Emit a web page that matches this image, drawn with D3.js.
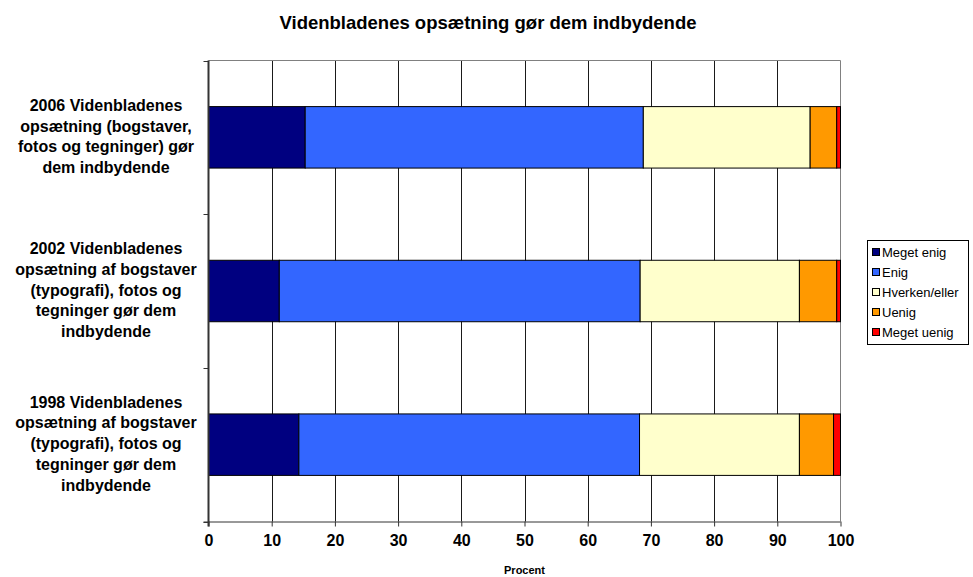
<!DOCTYPE html>
<html>
<head>
<meta charset="utf-8">
<script src="https://cdn.jsdelivr.net/npm/d3@7"></script>
<style>
  html, body { margin: 0; padding: 0; background: #fff; }
  svg { display: block; font-family: "Liberation Sans", Arial, sans-serif; }
</style>
</head>
<body>
<svg id="chart" width="973" height="577"></svg>
<script>
// ---- data ----
const categories = [
  "2006 Videnbladenes opsætning (bogstaver, fotos og tegninger) gør dem indbydende",
  "2002 Videnbladenes opsætning af bogstaver (typografi), fotos og tegninger gør dem indbydende",
  "1998 Videnbladenes opsætning af bogstaver (typografi), fotos og tegninger gør dem indbydende"
];
const categoryLines = [
  ["2006 Videnbladenes", "opsætning (bogstaver,", "fotos og tegninger) gør", "dem indbydende"],
  ["2002 Videnbladenes", "opsætning af bogstaver", "(typografi), fotos og", "tegninger gør dem", "indbydende"],
  ["1998 Videnbladenes", "opsætning af bogstaver", "(typografi), fotos og", "tegninger gør dem", "indbydende"]
];
const seriesNames = ["Meget enig", "Enig", "Hverken/eller", "Uenig", "Meget uenig"];
const megetEnig  = [15.3, 11.2, 14.3];
const enig       = [53.5, 57.1, 53.9];
const hverken    = [26.4, 25.2, 25.3];
const uenig      = [4.2, 5.9, 5.4];
const megetUenig = [0.6, 0.6, 1.1];
const xTicks = [0, 10, 20, 30, 40, 50, 60, 70, 80, 90, 100];
const colors = ["#000080", "#3366FF", "#FFFFCC", "#FF9900", "#FF0000"];
const titleText = "Videnbladenes opsætning gør dem indbydende";
const xAxisTitle = "Procent";

// ---- layout ----
const svg = d3.select("#chart");
const plot = { left: 208.5, right: 840.5, top: 60.5, bottom: 521.5 };

const x = d3.scaleLinear().domain([0, 100]).range([plot.left, plot.right]);
const y = d3.scaleBand().domain(categories).range([plot.top, plot.bottom])
  .paddingInner(0.6).paddingOuter(0.3);

const seriesValues = [megetEnig, enig, hverken, uenig, megetUenig];
const rows = categories.map((c, i) => {
  const r = { cat: c };
  seriesNames.forEach((s, j) => r[s] = seriesValues[j][i]);
  return r;
});
const stack = d3.stack().keys(seriesNames)(rows);

// title
svg.append("text")
  .attr("x", 488).attr("y", 28.5)
  .attr("text-anchor", "middle")
  .attr("font-size", 18.5).attr("font-weight", "bold")
  .text(titleText);

// gridlines
svg.append("g").selectAll("line")
  .data(xTicks.slice(1, -1))
  .join("line")
  .attr("x1", d => Math.round(x(d)) + 0.5).attr("x2", d => Math.round(x(d)) + 0.5)
  .attr("y1", plot.top).attr("y2", plot.bottom)
  .attr("stroke", "#1a1a1a").attr("stroke-width", 1);

// plot border top/right
svg.append("path")
  .attr("d", `M${plot.left},${plot.top}H${plot.right}V${plot.bottom}`)
  .attr("fill", "none").attr("stroke", "#808080").attr("stroke-width", 1);

// bars
svg.append("g").selectAll("g")
  .data(stack)
  .join("g")
  .attr("fill", (d, i) => colors[i])
  .selectAll("rect")
  .data(d => d)
  .join("rect")
  .attr("x", d => x(d[0]))
  .attr("width", d => x(d[1]) - x(d[0]))
  .attr("y", d => y(d.data.cat))
  .attr("height", y.bandwidth())
  .attr("stroke", "#000").attr("stroke-width", 1);

// x axis
const xAxis = d3.axisBottom(x).tickValues(xTicks).tickSize(5).tickPadding(8).tickSizeOuter(0);
const gx = svg.append("g").attr("transform", `translate(0,${plot.bottom})`).call(xAxis);
gx.select(".domain").attr("stroke", "#333").attr("d", `M${plot.left - 5},0.5H${plot.right}`);
gx.selectAll(".tick line").attr("stroke", "#333");
gx.selectAll(".tick text")
  .attr("font-size", 16).attr("font-weight", "bold").attr("fill", "#000")
  .attr("font-family", "Liberation Sans, Arial, sans-serif")
  .attr("dy", "0.71em");

svg.append("text")
  .attr("x", x(50)).attr("y", 574)
  .attr("text-anchor", "middle")
  .attr("font-size", 11).attr("font-weight", "bold")
  .text(xAxisTitle);

// y axis line and ticks at band boundaries
const step = y.step();
const boundaries = d3.range(categories.length + 1).map(i => plot.top + i * step);
svg.append("line")
  .attr("x1", plot.left).attr("x2", plot.left)
  .attr("y1", plot.top).attr("y2", plot.bottom + 5)
  .attr("stroke", "#333").attr("stroke-width", 2);
svg.append("g").selectAll("line")
  .data(boundaries)
  .join("line")
  .attr("x1", plot.left - 5).attr("x2", plot.left)
  .attr("y1", d => Math.round(d) + 0.5).attr("y2", d => Math.round(d) + 0.5)
  .attr("stroke", "#333");

// y labels
const lineH = 20.8;
categories.forEach((c, i) => {
  const lines = categoryLines[i];
  const cy = y(c) + y.bandwidth() / 2;
  const t = svg.append("text")
    .attr("text-anchor", "middle")
    .attr("font-size", 16).attr("font-weight", "bold");
  lines.forEach((ln, k) => {
    t.append("tspan")
      .attr("x", 106)
      .attr("y", cy + (k - (lines.length - 1) / 2) * lineH - 1)
      .attr("dy", "0.35em")
      .text(ln);
  });
});

// legend
const lg = svg.append("g");
lg.append("rect")
  .attr("x", 867.5).attr("y", 240.5).attr("width", 101).attr("height", 104)
  .attr("fill", "#fff").attr("stroke", "#000").attr("stroke-width", 1);
seriesNames.forEach((s, i) => {
  const cy = 252 + i * 20;
  lg.append("rect")
    .attr("x", 872.5).attr("y", cy - 3.5).attr("width", 7).attr("height", 7)
    .attr("fill", colors[i]).attr("stroke", "#000").attr("stroke-width", 1);
  lg.append("text")
    .attr("x", 882).attr("y", cy).attr("dy", "0.35em")
    .attr("font-size", 13)
    .text(s);
});
</script>
</body>
</html>
